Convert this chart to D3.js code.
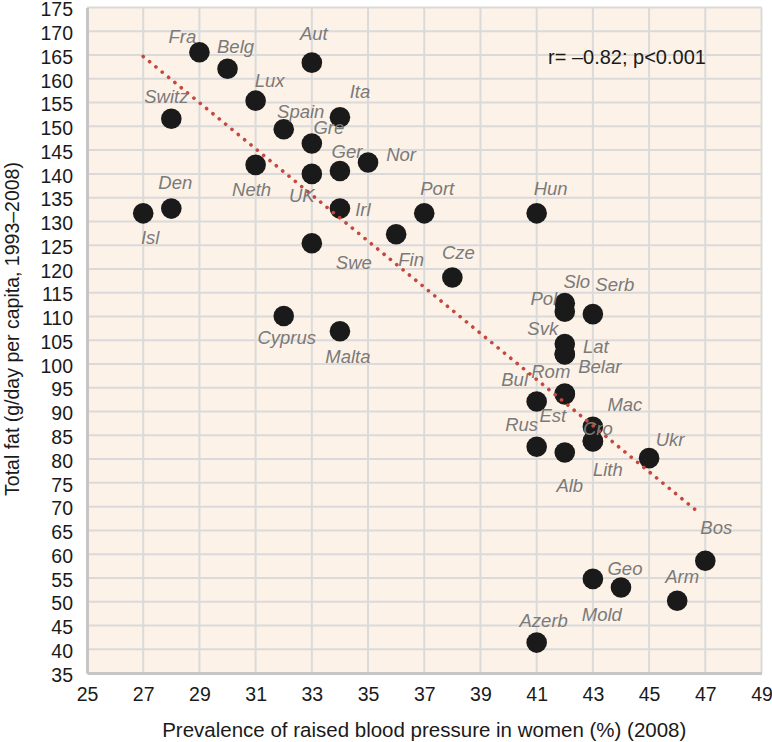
<!DOCTYPE html>
<html>
<head>
<meta charset="utf-8">
<script src="https://cdn.jsdelivr.net/npm/d3@7"></script>
<style>
  body { margin: 0; background: #fff; }
  svg { display: block; font-family: "Liberation Sans", Arial, Helvetica, sans-serif; }
</style>
</head>
<body>
<script>
// data
var countries = ["Fra", "Belg", "Aut", "Lux", "Switz", "Ita", "Spain", "Gre", "Nor", "Neth",
    "Ger", "UK", "Irl", "Den", "Isl", "Swe", "Fin", "Port", "Hun", "Cze",
    "Cyprus", "Malta", "Slo", "Pol", "Serb", "Svk", "Lat", "Belar", "Rom", "Bul",
    "Est", "Mac", "Cro", "Lith", "Rus", "Alb", "Ukr", "Bos", "Geo", "Mold",
    "Arm", "Azerb"];
var bloodPressure = [29, 30, 33, 31, 28, 34, 32, 33, 35, 31,
    34, 33, 34, 28, 27, 33, 36, 37, 41, 38,
    32, 34, 42, 42, 43, 42, 42, 42, 42, 41,
    42, 43, 43, 43, 41, 42, 45, 47, 44, 43,
    46, 41];
var totalFat = [165.6, 162.1, 163.4, 155.4, 151.6, 151.9, 149.4, 146.4, 142.4, 141.9,
    140.6, 140.0, 132.7, 132.7, 131.7, 125.4, 127.3, 131.7, 131.7, 118.2,
    110.1, 106.9, 112.8, 111.0, 110.5, 104.2, 102.1, 102.0, 93.8, 92.1,
    93.6, 86.8, 83.7, 83.8, 82.6, 81.4, 80.2, 58.6, 53.0, 54.8,
    50.2, 41.4];
var trendX = [27, 46.8];
var trendY = [164.7, 68.6];
var xTicks = d3.range(25, 50, 2);
var yTicks = d3.range(35, 176, 5);
var statText = "r= \u20130.82; p<0.001";

// label placement (px offsets from the marker)
var labelOffset = {
    Fra: [-17, -16], Belg: [8, -22], Aut: [2, -29], Lux: [14, -20], Switz: [-5, -22],
    Ita: [20, -26], Spain: [17, -18], Gre: [17, -16], Nor: [33, -8], Neth: [-4, 25],
    Ger: [7, -19], UK: [-10, 22], Irl: [23, 1], Den: [4, -26], Isl: [7, 24],
    Swe: [42, 19], Fin: [15, 25], Port: [13, -25], Hun: [14, -25], Cze: [6, -25],
    Cyprus: [3, 22], Malta: [8, 25], Slo: [12, -22], Pol: [-21, -13], Serb: [22, -30],
    Svk: [-22, -16], Lat: [31, -8], Belar: [35, 12], Rom: [-14, -22], Bul: [-22, -22],
    Est: [-12, 21], Mac: [32, -22], Cro: [5, -13], Lith: [15, 28], Rus: [-15, -22],
    Alb: [5, 33], Ukr: [21, -19], Bos: [11, -33], Geo: [4, -19], Mold: [9, 36],
    Arm: [5, -24], Azerb: [7, -22]
};

var width = 772, height = 742;
var margin = {top: 7.5, right: 10.5, bottom: 69, left: 87};

var points = countries.map(function (c, i) {
    return {name: c, x: bloodPressure[i], y: totalFat[i]};
});

var x = d3.scaleLinear().domain([25, 49]).range([margin.left, width - margin.right]);
var y = d3.scaleLinear().domain([35, 175]).range([height - margin.bottom, margin.top]);

var svg = d3.select("body").append("svg")
    .attr("width", width)
    .attr("height", height);

// plot background
svg.append("rect")
    .attr("x", x(25)).attr("y", y(175))
    .attr("width", x(49) - x(25)).attr("height", y(35) - y(175))
    .attr("fill", "#fdf2e7");

// grid
svg.append("g")
    .selectAll("line.v")
    .data(xTicks.slice(1))
    .join("line")
    .attr("x1", d => x(d)).attr("x2", d => x(d))
    .attr("y1", y(175)).attr("y2", y(35))
    .attr("stroke", "#dadada").attr("stroke-width", 2);

svg.append("g")
    .selectAll("line.h")
    .data(yTicks.slice(1))
    .join("line")
    .attr("x1", x(25)).attr("x2", x(49))
    .attr("y1", d => y(d)).attr("y2", d => y(d))
    .attr("stroke", "#dadada").attr("stroke-width", 2);

// axes
var xAxis = svg.append("g")
    .attr("transform", "translate(0," + y(35) + ")")
    .call(d3.axisBottom(x).tickValues(xTicks).tickSize(0).tickPadding(14));
var yAxis = svg.append("g")
    .attr("transform", "translate(" + x(25) + ",0)")
    .call(d3.axisLeft(y).tickValues(yTicks).tickSize(0).tickPadding(14));

[xAxis, yAxis].forEach(function (g) {
    g.select(".domain").attr("stroke", "#c6c6c6").attr("stroke-width", 3);
    g.selectAll("text").attr("fill", "#1a1a1a").style("font-size", "19.5px");
});
yAxis.selectAll("text").attr("dy", "0.42em");

// points
svg.append("g")
    .selectAll("circle")
    .data(points)
    .join("circle")
    .attr("cx", d => x(d.x))
    .attr("cy", d => y(d.y))
    .attr("r", 10.3)
    .attr("fill", "#1b1a1a");

// trend line (dotted)
svg.append("line")
    .attr("x1", x(trendX[0])).attr("y1", y(trendY[0]))
    .attr("x2", x(trendX[1])).attr("y2", y(trendY[1]))
    .attr("stroke", "#c5473f")
    .attr("stroke-width", 3.6)
    .attr("stroke-linecap", "round")
    .attr("stroke-dasharray", "0.1 8.1");

// country labels
svg.append("g")
    .selectAll("text")
    .data(points)
    .join("text")
    .attr("x", d => x(d.x) + labelOffset[d.name][0])
    .attr("y", d => y(d.y) + labelOffset[d.name][1])
    .attr("dy", "0.35em")
    .attr("text-anchor", "middle")
    .attr("fill", "#7a7a7a")
    .style("font-size", "18.5px")
    .style("font-style", "italic")
    .text(d => d.name);

// correlation
svg.append("text")
    .attr("x", 548).attr("y", 57)
    .attr("dy", "0.35em")
    .attr("fill", "#1a1a1a")
    .style("font-size", "20px")
    .text(statText);

// axis titles
svg.append("text")
    .attr("x", (x(25) + x(49)) / 2)
    .attr("y", 730)
    .attr("dy", "0.35em")
    .attr("text-anchor", "middle")
    .attr("fill", "#1a1a1a")
    .style("font-size", "20.5px")
    .text("Prevalence of raised blood pressure in women (%) (2008)");

svg.append("text")
    .attr("transform", "translate(12," + 329 + ") rotate(-90)")
    .attr("dy", "0.35em")
    .attr("text-anchor", "middle")
    .attr("fill", "#1a1a1a")
    .style("font-size", "19.5px")
    .text("Total fat (g/day per capita, 1993\u20132008)");
</script>
</body>
</html>
